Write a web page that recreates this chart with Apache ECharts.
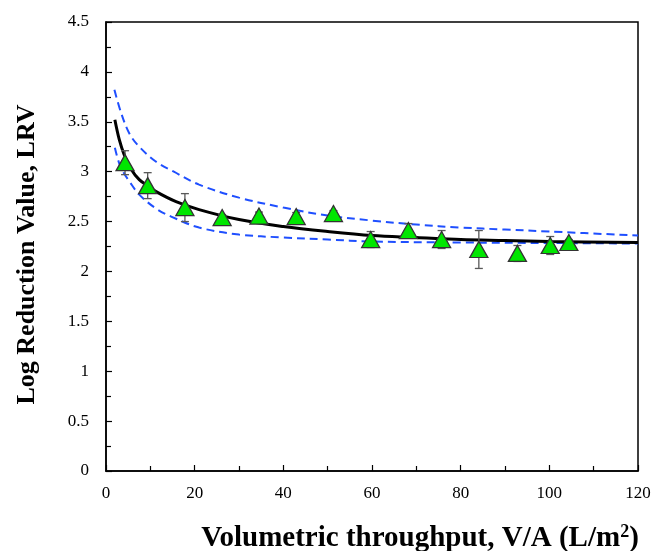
<!DOCTYPE html>
<html>
<head>
<meta charset="utf-8">
<script src="https://cdn.jsdelivr.net/npm/echarts@6/dist/echarts.min.js"></script>
<style>
  html, body { margin: 0; padding: 0; background: #fff; }
  #chart { width: 656px; height: 551px; }
</style>
</head>
<body>
<div id="chart"></div>
<script>
// Measured log reduction values vs. volumetric throughput
const throughput = [4.3, 9.4, 17.8, 26.2, 34.5, 42.9, 51.3, 59.7, 68.2, 75.7, 84.1, 92.8, 100.2, 104.4];
const lrv        = [3.09, 2.86, 2.64, 2.54, 2.555, 2.55, 2.58, 2.32, 2.41, 2.32, 2.22, 2.18, 2.26, 2.29];
const lrvError   = [0.12, 0.13, 0.14, 0.03, 0.04, 0.04, 0.03, 0.08, 0.07, 0.09, 0.19, 0.08, 0.09, 0.03];

// Model fit and its confidence band
const fitX   = [2, 3, 4.1, 5.6, 7.5, 9.4, 11.3, 15.8, 21, 30, 40, 50, 60, 70, 80, 90, 100, 120];
const fitY   = [3.52, 3.32, 3.17, 3.03, 2.92, 2.86, 2.80, 2.70, 2.62, 2.52, 2.45, 2.40, 2.36, 2.34, 2.32, 2.31, 2.30, 2.29];
const upperX = [1.9, 3.4, 5.3, 7.5, 11.3, 15.3, 21, 30, 40, 50, 60, 70, 80, 90, 100, 120];
const upperY = [3.82, 3.59, 3.38, 3.25, 3.10, 3.00, 2.87, 2.74, 2.64, 2.56, 2.51, 2.47, 2.44, 2.42, 2.40, 2.36];
const lowerX = [2, 3, 4, 5.3, 7.5, 11.3, 14.7, 21, 30, 40, 50, 60, 80, 100, 120];
const lowerY = [3.24, 3.08, 2.99, 2.90, 2.77, 2.63, 2.55, 2.44, 2.37, 2.34, 2.32, 2.30, 2.29, 2.285, 2.28];

// Axis ranges
const xMin = 0, xMax = 120, xStep = 20;
const yMin = 0, yMax = 4.5, yStep = 0.5;

const zip = (xs, ys) => xs.map((x, i) => [x, ys[i]]);
const errorData = throughput.map((x, i) => [x, lrv[i] - lrvError[i], lrv[i] + lrvError[i]]);

const FONT = '"Liberation Serif", "Times New Roman", serif';

const chart = echarts.init(document.getElementById('chart'), null, { renderer: 'canvas' });

chart.setOption({
  animation: false,
  backgroundColor: '#ffffff',
  grid: {
    left: 106, right: 18, top: 22, bottom: 80,
    containLabel: false, outerBoundsMode: 'none',
    show: true, borderColor: '#000', borderWidth: 1.5, backgroundColor: 'transparent'
  },
  xAxis: {
    type: 'value', min: xMin, max: xMax, interval: xStep,
    name: '{t|Volumetric throughput, V/A (L/m}{s|2}{t|)}',
    nameLocation: 'middle', nameGap: 52,
    nameTextStyle: {
      padding: [0, 0, 0, 96],
      rich: {
        t: { fontFamily: FONT, fontWeight: 'bold', fontSize: 29, color: '#000' },
        s: { fontFamily: FONT, fontWeight: 'bold', fontSize: 18, color: '#000', padding: [0, 0, 13, 0] }
      }
    },
    axisLine: { show: true, onZero: false, lineStyle: { color: '#000', width: 1.5 } },
    axisTick: { show: true, inside: true, length: 6, lineStyle: { color: '#000', width: 1.2 } },
    minorTick: { show: true, splitNumber: 2, length: 5, lineStyle: { color: '#000', width: 1.2 } },
    axisLabel: { fontFamily: FONT, fontSize: 17, color: '#000', margin: 14 },
    splitLine: { show: false }
  },
  yAxis: {
    type: 'value', min: yMin, max: yMax, interval: yStep,
    name: 'Log Reduction Value, LRV',
    nameLocation: 'middle', nameGap: 66, nameRotate: 90,
    nameTextStyle: { fontFamily: FONT, fontWeight: 'bold', fontSize: 26, color: '#000', padding: [0, 16, 0, 0] },
    axisLine: { show: true, onZero: false, lineStyle: { color: '#000', width: 1.5 } },
    axisTick: { show: true, inside: true, length: 6, lineStyle: { color: '#000', width: 1.2 } },
    minorTick: { show: true, splitNumber: 2, length: 5, lineStyle: { color: '#000', width: 1.2 } },
    axisLabel: { fontFamily: FONT, fontSize: 17, color: '#000', margin: 17 },
    splitLine: { show: false }
  },
  series: [
    {
      name: 'upper', type: 'line', data: zip(upperX, upperY),
      smooth: 0.35, showSymbol: false, z: 2,
      lineStyle: { color: '#1f4fff', width: 2, type: [8, 5] }
    },
    {
      name: 'lower', type: 'line', data: zip(lowerX, lowerY),
      smooth: 0.35, showSymbol: false, z: 2,
      lineStyle: { color: '#1f4fff', width: 2, type: [8, 5] }
    },
    {
      name: 'fit', type: 'line', data: zip(fitX, fitY),
      smooth: 0.35, showSymbol: false, z: 3,
      lineStyle: { color: '#000', width: 3 }
    },
    {
      name: 'error', type: 'custom', data: errorData, z: 4,
      renderItem: function (params, api) {
        const x = api.value(0);
        const top = api.coord([x, api.value(2)]);
        const bot = api.coord([x, api.value(1)]);
        const cap = 4;
        const style = { stroke: '#595959', lineWidth: 1.3 };
        return {
          type: 'group',
          children: [
            { type: 'line', shape: { x1: top[0], y1: top[1], x2: bot[0], y2: bot[1] }, style: style },
            { type: 'line', shape: { x1: top[0] - cap, y1: top[1], x2: top[0] + cap, y2: top[1] }, style: style },
            { type: 'line', shape: { x1: bot[0] - cap, y1: bot[1], x2: bot[0] + cap, y2: bot[1] }, style: style }
          ]
        };
      }
    },
    {
      name: 'LRV', type: 'scatter', data: zip(throughput, lrv), z: 5,
      symbol: 'triangle', symbolSize: [18, 16],
      itemStyle: { color: '#00e600', opacity: 1, borderColor: '#333', borderWidth: 1.3 }
    }
  ]
});
</script>
</body>
</html>
